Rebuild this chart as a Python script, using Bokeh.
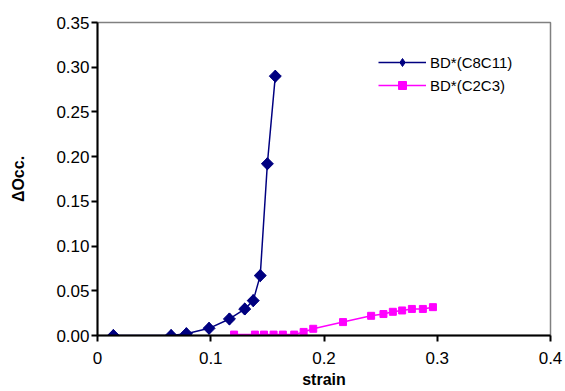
import math
from bokeh.plotting import figure
from bokeh.models import FixedTicker, NumeralTickFormatter, Legend, LegendItem
from bokeh.embed import file_html
from bokeh.resources import INLINE

# Data
c8c11_strain = [0.014, 0.065, 0.0785, 0.0985, 0.1165, 0.130, 0.1375, 0.1437, 0.150, 0.157]
c8c11_occ = [0.000, 0.000, 0.002, 0.008, 0.0185, 0.0296, 0.039, 0.067, 0.192, 0.290]

c2c3_strain = [0.1206, 0.139, 0.147, 0.1555, 0.1637, 0.1737, 0.182, 0.1905, 0.2168,
               0.2416, 0.2525, 0.2608, 0.269, 0.2776, 0.2873, 0.2962]
c2c3_occ = [0.001, 0.001, 0.001, 0.001, 0.001, 0.001, 0.004, 0.0075, 0.015,
            0.022, 0.024, 0.0265, 0.028, 0.0297, 0.0297, 0.0317]

x_ticks = [0, 0.1, 0.2, 0.3, 0.4]
x_tick_labels = ["0", "0.1", "0.2", "0.3", "0.4"]
y_ticks = [0.0, 0.05, 0.10, 0.15, 0.20, 0.25, 0.30, 0.35]

series_names = ["BD*(C8C11)", "BD*(C2C3)"]

FONT = "Liberation Sans"
NAVY = "#000080"
MAGENTA = "#FF00FF"

p = figure(width=565, height=391, output_backend="svg", toolbar_location=None,
           x_range=(0, 0.4), y_range=(0, 0.35),
           min_border_left=97, min_border_right=15, min_border_top=22, min_border_bottom=56)
p.background_fill_color = "white"
p.border_fill_color = "white"
p.outline_line_color = "#808080"
p.outline_line_width = 1.5
p.xgrid.visible = False
p.ygrid.visible = False

l1 = p.line(c8c11_strain, c8c11_occ, line_color=NAVY, line_width=1.5)
# diamond marker used for the legend swatch (sits under the rotated squares)
leg_m1 = p.scatter(c8c11_strain, c8c11_occ, marker="diamond", size=12,
                   fill_color=NAVY, line_color=NAVY)
m1 = p.scatter(c8c11_strain, c8c11_occ, marker="square", size=8.5, angle=math.pi / 4,
               fill_color=NAVY, line_color=NAVY)
l2 = p.line(c2c3_strain, c2c3_occ, line_color=MAGENTA, line_width=1.5)
m2 = p.scatter(c2c3_strain, c2c3_occ, marker="square", size=7,
               fill_color=MAGENTA, line_color=MAGENTA)

for ax in (p.xaxis[0], p.yaxis[0]):
    ax.axis_line_color = "black"
    ax.axis_line_width = 2
    ax.major_tick_line_color = "black"
    ax.major_tick_line_width = 2
    ax.major_tick_out = 6
    ax.major_tick_in = 0
    ax.minor_tick_line_color = None
    ax.major_label_text_font = FONT
    ax.major_label_text_font_size = "17px"
    ax.major_label_text_color = "black"
    ax.axis_label_text_font = FONT
    ax.axis_label_text_font_style = "bold"
    ax.axis_label_text_font_size = "16px"
    ax.axis_label_text_color = "black"

p.xaxis.ticker = FixedTicker(ticks=x_ticks)
p.xaxis.major_label_overrides = {t: s for t, s in zip(x_ticks, x_tick_labels)}
p.xaxis.major_label_standoff = 10
p.xaxis.axis_label = "strain"
p.xaxis.axis_label_standoff = 4

p.yaxis.ticker = FixedTicker(ticks=y_ticks)
p.yaxis.formatter = NumeralTickFormatter(format="0.00")
p.yaxis.major_label_standoff = 2
p.yaxis.axis_label = "ΔOcc."
p.yaxis.axis_label_standoff = 26

legend = Legend(items=[LegendItem(label=series_names[0], renderers=[l1, leg_m1]),
                       LegendItem(label=series_names[1], renderers=[l2, m2])],
                location=(281, 240))
legend.label_text_font = FONT
legend.label_text_font_size = "15px"
legend.label_text_color = "black"
legend.glyph_width = 48
legend.glyph_height = 20
legend.spacing = 3
legend.padding = 0
legend.margin = 0
legend.label_standoff = 4
legend.border_line_color = None
legend.background_fill_alpha = 0
p.add_layout(legend, "center")

open("out.html", "w").write(file_html(p, INLINE))
